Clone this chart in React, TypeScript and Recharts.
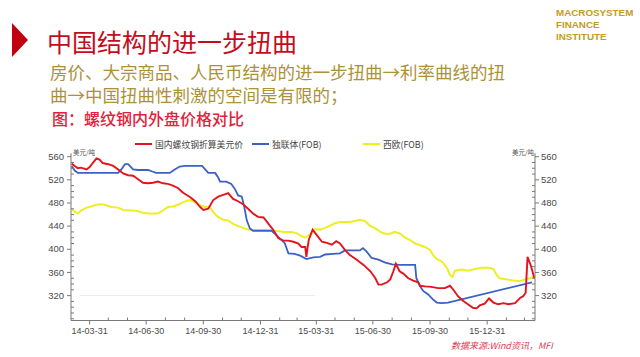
import { LineChart, Line, XAxis, YAxis, ReferenceLine } from 'recharts';

// 螺纹钢内外盘价格对比 (美元/吨)
const redDates = [
  '2014-03-02', '2014-03-07', '2014-03-12', '2014-03-17', '2014-03-26', '2014-03-31', '2014-04-05',
  '2014-04-11', '2014-04-16', '2014-04-21', '2014-04-30', '2014-05-08', '2014-05-16', '2014-05-24',
  '2014-06-01', '2014-06-09', '2014-06-17', '2014-06-25', '2014-07-03', '2014-07-11', '2014-07-19',
  '2014-07-27', '2014-08-04', '2014-08-12', '2014-08-20', '2014-08-28', '2014-09-09', '2014-09-17',
  '2014-09-25', '2014-09-30', '2014-10-08', '2014-10-16', '2014-10-24', '2014-11-01', '2014-11-09',
  '2014-11-17', '2014-11-25', '2014-12-03', '2014-12-11', '2014-12-19', '2014-12-27', '2015-01-05',
  '2015-01-13', '2015-01-21', '2015-01-29', '2015-02-06', '2015-02-14', '2015-02-22', '2015-03-02',
  '2015-03-07', '2015-03-13', '2015-03-15', '2015-03-17', '2015-03-19', '2015-03-25', '2015-04-01',
  '2015-04-09', '2015-04-17', '2015-04-25', '2015-05-02', '2015-05-08', '2015-05-16', '2015-05-24',
  '2015-06-04', '2015-06-15', '2015-06-26', '2015-07-04', '2015-07-09', '2015-07-14', '2015-07-23',
  '2015-07-28', '2015-08-02', '2015-08-06', '2015-08-12', '2015-08-18', '2015-08-26', '2015-09-03',
  '2015-09-11', '2015-09-14', '2015-09-22', '2015-10-02', '2015-10-13', '2015-10-24', '2015-11-01',
  '2015-11-06', '2015-11-14', '2015-11-22', '2015-11-30', '2015-12-08', '2015-12-14', '2015-12-19',
  '2015-12-27', '2016-01-03', '2016-01-10', '2016-01-18', '2016-01-26', '2016-02-03', '2016-02-14',
  '2016-02-22', '2016-02-27', '2016-03-02', '2016-03-05', '2016-03-10', '2016-03-16',
];
const redValues = [
  548, 544, 540, 541, 538, 542, 549,
  557, 555, 549, 547, 544, 538, 531,
  528, 527, 521, 515, 514, 515, 517,
  514, 513, 510, 506, 498, 490, 483,
  473, 468, 470, 485, 491, 494, 497,
  487, 483, 478, 470, 462, 456, 455,
  444, 433, 419, 415, 415, 413, 410,
  404, 404, 387, 404, 417, 434, 424,
  413, 411, 408, 414, 410, 399, 390,
  382, 373, 362, 350, 339, 339, 343,
  348, 362, 375, 362, 358, 350, 346,
  343, 337, 336, 335, 333, 333, 337,
  331, 319, 311, 305, 299, 298, 303,
  306, 315, 308, 305, 307, 305, 307,
  316, 319, 325, 387, 373, 350,
];

const blueDates = [
  '2014-03-02', '2014-03-07', '2014-03-12', '2014-05-16', '2014-05-21', '2014-05-27', '2014-06-01',
  '2014-06-09', '2014-06-17', '2014-07-03', '2014-07-11', '2014-07-16', '2014-08-07', '2014-08-15',
  '2014-08-23', '2014-09-01', '2014-09-28', '2014-10-03', '2014-10-08', '2014-10-19', '2014-10-24',
  '2014-10-27', '2014-11-06', '2014-11-14', '2014-11-20', '2014-11-25', '2014-12-01', '2014-12-05',
  '2014-12-09', '2014-12-14', '2014-12-19', '2015-01-18', '2015-01-23', '2015-02-03', '2015-02-08',
  '2015-02-14', '2015-02-24', '2015-03-05', '2015-03-15', '2015-03-26', '2015-04-06', '2015-04-14',
  '2015-04-27', '2015-05-08', '2015-05-16', '2015-06-09', '2015-06-14', '2015-06-20', '2015-06-28',
  '2015-07-09', '2015-07-20', '2015-07-31', '2015-08-13', '2015-09-06', '2015-09-08', '2015-09-14',
  '2015-09-19', '2015-09-27', '2015-10-05', '2015-10-11', '2015-10-19', '2015-10-29', '2016-03-12',
];
const blueValues = [
  544, 536, 532, 532, 538, 547, 547,
  538, 537, 537, 534, 532, 532, 538,
  543, 544, 544, 538, 532, 532, 524,
  517, 517, 513, 504, 493, 491, 473,
  450, 436, 432, 432, 427, 416, 411,
  393, 392, 389, 383, 386, 387, 391,
  392, 393, 398, 398, 402, 396, 385,
  382, 377, 374, 373, 373, 350, 336,
  328, 322, 313, 308, 307, 308, 343,
];

const yellowDates = [
  '2014-03-02', '2014-03-07', '2014-03-12', '2014-03-17', '2014-03-26', '2014-04-02', '2014-04-11',
  '2014-04-19', '2014-04-27', '2014-05-05', '2014-05-16', '2014-05-24', '2014-06-01', '2014-06-09',
  '2014-06-17', '2014-06-25', '2014-07-03', '2014-07-19', '2014-07-27', '2014-08-04', '2014-08-12',
  '2014-08-20', '2014-08-28', '2014-09-04', '2014-09-09', '2014-09-17', '2014-09-25', '2014-10-03',
  '2014-10-11', '2014-10-16', '2014-10-24', '2014-11-01', '2014-11-09', '2014-11-17', '2014-11-25',
  '2014-12-03', '2014-12-11', '2014-12-22', '2015-01-07', '2015-01-23', '2015-02-08', '2015-02-19',
  '2015-02-27', '2015-03-05', '2015-03-13', '2015-03-21', '2015-03-29', '2015-04-06', '2015-04-14',
  '2015-04-22', '2015-04-30', '2015-05-08', '2015-05-24', '2015-06-01', '2015-06-09', '2015-06-17',
  '2015-06-25', '2015-07-04', '2015-07-12', '2015-07-20', '2015-07-28', '2015-08-04', '2015-08-13',
  '2015-08-21', '2015-08-29', '2015-09-06', '2015-09-14', '2015-09-22', '2015-09-30', '2015-10-05',
  '2015-10-11', '2015-10-19', '2015-10-27', '2015-11-01', '2015-11-05', '2015-11-09', '2015-11-20',
  '2015-11-30', '2015-12-11', '2015-12-22', '2016-01-02', '2016-01-10', '2016-01-15', '2016-01-20',
  '2016-02-01', '2016-02-11', '2016-02-22', '2016-03-01', '2016-03-09', '2016-03-16',
];
const yellowValues = [
  470, 465, 462, 467, 472, 474, 477,
  478, 476, 473, 472, 468, 467, 467,
  466, 463, 462, 462, 467, 473, 474,
  477, 481, 484, 485, 481, 476, 473,
  473, 464, 456, 451, 450, 444, 440,
  437, 434, 433, 433, 432, 430, 430,
  428, 424, 420, 426, 435, 434, 437,
  441, 445, 447, 447, 449, 451, 449,
  441, 436, 430, 427, 427, 430, 427,
  420, 416, 410, 407, 404, 399, 390,
  383, 379, 368, 356, 352, 363, 365,
  363, 366, 368, 368, 366, 356, 350,
  348, 346, 345, 348, 350, 354,
];

const seriesNames = ['国内螺纹钢折算美元价', '独联体(FOB)', '西欧(FOB)'];
const xLabelDates = [
  '2014-03-31', '2014-06-30', '2014-09-30', '2014-12-31',
  '2015-03-31', '2015-06-30', '2015-09-30', '2015-12-31',
];
const xMinorDates = [
  '2014-04-30', '2014-05-31', '2014-07-31', '2014-08-31', '2014-10-31', '2014-11-30',
  '2015-01-31', '2015-02-28', '2015-04-30', '2015-05-31', '2015-07-31', '2015-08-31',
  '2015-10-31', '2015-11-30', '2016-01-31', '2016-02-29',
];
const yLabelTicks = [320, 360, 400, 440, 480, 520, 560];
const yMinorTicks = [
  280, 290, 300, 310, 330, 340, 350, 370, 380, 390, 410, 420, 430,
  450, 460, 470, 490, 500, 510, 530, 540, 550,
];

const RED = '#e5131c';
const BLUE = '#3b61c6';
const YELLOW = '#eeee24';
const AXIS = '#7a7a7a';
const TICK_TEXT = '#4a4a4a';
const SANS = "'Liberation Sans', 'Noto Sans CJK SC', sans-serif";
const CJK = "'Noto Sans CJK SC', sans-serif";

const ts = (d: string) => Date.parse(d + 'T00:00:00Z');
const X_MIN = ts('2014-03-01');
const X_MAX = ts('2016-03-17');
const Y_DOMAIN: [number, number] = [277, 566];

const toSeries = (dates: string[], values: number[]) =>
  dates.map((d, i) => ({ t: ts(d), v: values[i] }));

const redData = toSeries(redDates, redValues);
const blueData = toSeries(blueDates, blueValues);
const yellowData = toSeries(yellowDates, yellowValues);

const xMajorTs = xLabelDates.map(ts);
const xTicks = [...xMajorTs, ...xMinorDates.map(ts)].sort((a, b) => a - b);
const yTicks = [...yLabelTicks, ...yMinorTicks].sort((a, b) => a - b);

const fmtDate = (t: number) => new Date(t).toISOString().slice(2, 10);

function BottomTick({ x, y, payload }: any) {
  const major = xMajorTs.includes(payload.value);
  return (
    <g>
      <line x1={x} x2={x} y1={major ? y : y - 3} y2={major ? y + 4 : y} stroke={AXIS} />
      {major && (
        <text x={x} y={y + 13} textAnchor="middle" fontSize={9} fontFamily={SANS} fill={TICK_TEXT}>
          {fmtDate(payload.value)}
        </text>
      )}
    </g>
  );
}

function LeftTick({ x, y, payload }: any) {
  const major = yLabelTicks.includes(payload.value);
  return (
    <g>
      <line x1={major ? x - 4 : x} x2={major ? x : x + 3} y1={y} y2={y} stroke={AXIS} />
      {major && (
        <text x={x - 7} y={y + 3.2} textAnchor="end" fontSize={9.5} fontFamily={SANS} fill={TICK_TEXT}>
          {payload.value}
        </text>
      )}
    </g>
  );
}

function RightTick({ x, y, payload }: any) {
  const major = yLabelTicks.includes(payload.value);
  return (
    <g>
      <line x1={major ? x : x - 3} x2={major ? x + 4 : x} y1={y} y2={y} stroke={AXIS} />
      {major && (
        <text x={x + 6} y={y + 3.2} textAnchor="start" fontSize={9.5} fontFamily={SANS} fill={TICK_TEXT}>
          {payload.value}
        </text>
      )}
    </g>
  );
}

const abs = (left: number, top: number, extra: any = {}) => ({
  position: 'absolute' as const,
  left,
  top,
  whiteSpace: 'nowrap' as const,
  ...extra,
});

function LegendItem({ left, color, label }: { left: number; color: string; label: string }) {
  return (
    <div style={abs(left, 137, { display: 'flex', alignItems: 'center', height: 14 })}>
      <span style={{ display: 'inline-block', width: 17, height: 2, background: color, marginRight: 3 }} />
      <span style={{ fontFamily: CJK, fontSize: 8.8, color: '#444' }}>{label}</span>
    </div>
  );
}

export default function App() {
  return (
    <div style={{ position: 'absolute', left: 0, top: 0, width: 640, height: 357, background: '#fff', overflow: 'hidden' }}>
      {/* header */}
      <svg width={40} height={70} style={{ position: 'absolute', left: 0, top: 0 }}>
        <polygon points="12,23 12,57 28,40" fill="#c00010" />
      </svg>
      <div style={abs(47, 26, { fontFamily: CJK, fontSize: 25, lineHeight: '30px', color: '#c30d1d' })}>
        中国结构的进一步扭曲
      </div>
      <div style={abs(556, 7, { fontFamily: SANS, fontWeight: 700, fontSize: 9.8, lineHeight: '12px', color: '#c49b1c' })}>
        MACROSYSTEM<br />FINANCE<br />INSTITUTE
      </div>
      <div style={abs(50, 59.5, { fontFamily: CJK, fontSize: 17.5, lineHeight: '23px', color: '#ab9238' })}>
        房价、大宗商品、人民币结构的进一步扭曲→利率曲线的扭
      </div>
      <div style={abs(50, 82.5, { fontFamily: CJK, fontSize: 17.5, lineHeight: '23px', color: '#ab9238' })}>
        曲→中国扭曲性刺激的空间是有限的；
      </div>
      <div style={abs(52, 108, { fontFamily: CJK, fontSize: 16, fontWeight: 500, lineHeight: '20px', color: '#e0223c' })}>
        图：螺纹钢内外盘价格对比
      </div>

      {/* legend */}
      <LegendItem left={135} color={RED} label={seriesNames[0]} />
      <LegendItem left={252} color={BLUE} label={seriesNames[1]} />
      <LegendItem left={363} color={YELLOW} label={seriesNames[2]} />

      {/* unit labels */}
      <div style={abs(73, 147, { fontFamily: CJK, fontSize: 6.5, lineHeight: '10px', color: '#555' })}>美元/吨</div>
      <div style={abs(512, 147, { fontFamily: CJK, fontSize: 6.5, lineHeight: '10px', color: '#555' })}>美元/吨</div>

      <div style={{ position: 'absolute', left: 0, top: 0 }}>
        <LineChart width={640} height={357} margin={{ top: 153.2, right: 65, bottom: 16.5, left: 31 }}>
          <XAxis
            dataKey="t"
            type="number"
            domain={[X_MIN, X_MAX]}
            allowDataOverflow
            ticks={xTicks}
            interval={0}
            tickSize={0}
            tickMargin={0}
            tickLine={false}
            height={20}
            axisLine={{ stroke: AXIS }}
            tick={(p: any) => <BottomTick {...p} />}
          />
          <YAxis
            yAxisId="left"
            orientation="left"
            type="number"
            domain={Y_DOMAIN}
            allowDataOverflow
            ticks={yTicks}
            interval={0}
            width={40}
            tickSize={0}
            tickMargin={0}
            tickLine={false}
            axisLine={{ stroke: AXIS }}
            tick={(p: any) => <LeftTick {...p} />}
          />
          <YAxis
            yAxisId="right"
            orientation="right"
            type="number"
            domain={Y_DOMAIN}
            allowDataOverflow
            ticks={yTicks}
            interval={0}
            width={40}
            tickSize={0}
            tickMargin={0}
            tickLine={false}
            axisLine={{ stroke: AXIS }}
            tick={(p: any) => <RightTick {...p} />}
          />
          <ReferenceLine
            yAxisId="left"
            segment={[{ x: ts('2014-03-15'), y: 320 }, { x: ts('2015-03-29'), y: 320 }]}
            stroke="#ececec"
          />
          <Line
            yAxisId="left"
            data={yellowData}
            dataKey="v"
            name={seriesNames[2]}
            stroke={YELLOW}
            strokeWidth={2}
            dot={false}
            isAnimationActive={false}
          />
          <Line
            yAxisId="left"
            data={blueData}
            dataKey="v"
            name={seriesNames[1]}
            stroke={BLUE}
            strokeWidth={1.8}
            dot={false}
            isAnimationActive={false}
          />
          <Line
            yAxisId="left"
            data={redData}
            dataKey="v"
            name={seriesNames[0]}
            stroke={RED}
            strokeWidth={1.9}
            dot={false}
            isAnimationActive={false}
          />
        </LineChart>
      </div>

      <div style={abs(451, 340, { fontFamily: CJK, fontSize: 9, fontStyle: 'italic', lineHeight: '12px', color: '#e23a52' })}>
        数据来源:Wind资讯，MFI
      </div>
    </div>
  );
}
